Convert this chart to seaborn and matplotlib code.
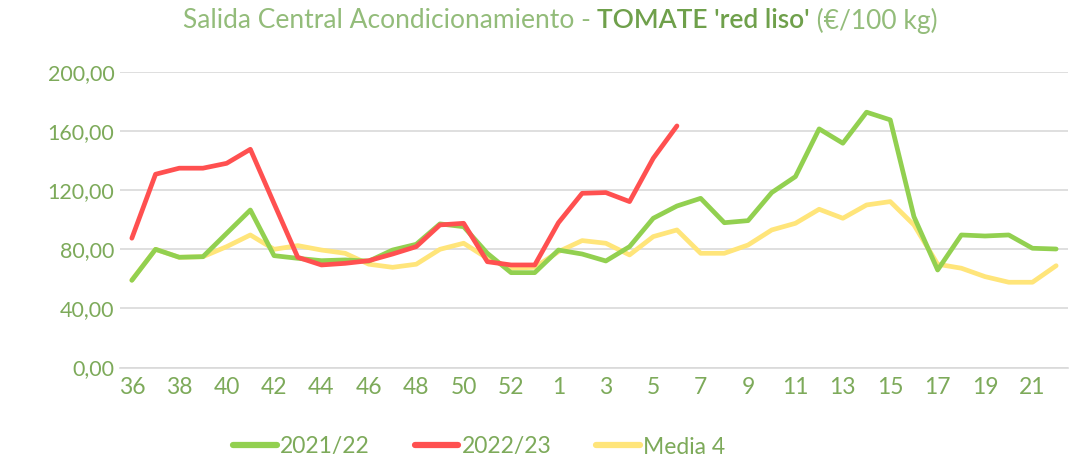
import numpy as np
import pandas as pd
import matplotlib
matplotlib.use("Agg")
import matplotlib.pyplot as plt
import seaborn as sns
from matplotlib.lines import Line2D

weeks = [str(w) for w in list(range(36, 54)) + list(range(1, 23))]

s2122 = [59, 80, 74.6, 75, 90.8, 106.6, 75.7, 73.9, 72.3, 72.8, 72, 79.5, 83.4, 97.2,
         95.3, 77.3, 64.2, 64.2, 79.5, 76.8, 72.1, 81.8, 101, 109.3, 114.5, 98, 99.4,
         118.4, 129.2, 161.5, 151.8, 172.8, 167.6, 102.1, 66, 89.7, 89, 89.7, 80.7, 80.2]
s2223 = [87.5, 130.8, 134.9, 134.9, 138.2, 147.7, 111, 74.6, 69.4, 70.5, 72.3, 76.8,
         81.8, 96.5, 97.6, 71.6, 69.4, 69.4, 98, 117.9, 118.4, 112.3, 141.6, 163.5] + [np.nan] * 16
media4 = [59.2, 80, 74.6, 75, 81.8, 89.7, 80, 82.5, 79.5, 77.3, 69.9, 67.8, 69.9, 80,
          84.1, 73.9, 67.2, 67.8, 78.4, 85.9, 84.1, 76.2, 88.6, 93.1, 77.3, 77.3, 82.9,
          93.1, 97.6, 107.1, 101, 110, 112.3, 96.5, 69.9, 67.2, 61.5, 57.7, 57.7, 68.9]

series_names = ["2021/22", "2022/23", "Media 4"]
colors = ["#92D050", "#FF5050", "#FFE57A"]
text_col = "#7DAA5A"
fs = 16.5

sns.set_theme(style="white")
plt.rcParams['font.family'] = ['Lato', 'DejaVu Sans']

n = len(weeks)
idx = np.arange(n)
df = pd.concat([
    pd.DataFrame({"idx": idx, "val": s2122, "serie": series_names[0]}),
    pd.DataFrame({"idx": idx, "val": s2223, "serie": series_names[1]}),
    pd.DataFrame({"idx": idx, "val": media4, "serie": series_names[2]}),
])

fig = plt.figure(figsize=(10.82, 4.62), dpi=100)
ax = fig.add_axes([120/1082, 1 - 367.5/462, (1068 - 120)/1082, (367.5 - 72)/462])

for k in [2, 0, 1]:
    sub = df[df.serie == series_names[k]].dropna()
    sns.lineplot(data=sub, x="idx", y="val", ax=ax, color=colors[k], linewidth=3.4,
                 legend=False, solid_capstyle="round", solid_joinstyle="round")

ax.set_xlim(-0.5, n - 0.5)
ax.set_ylim(0, 200)
yt = np.arange(0, 201, 40)
ax.set_yticks(yt)
ax.set_yticklabels([f"{v:.2f}".replace(".", ",") for v in yt])
ax.yaxis.grid(True, color="#D9D9D9", linewidth=1.2)
ax.set_axisbelow(True)
ax.set_xlabel("")
ax.set_ylabel("")

ax.set_xticks(idx[::2])
ax.set_xticklabels(weeks[::2])
ax.set_xticks(np.arange(-0.5, n, 1), minor=True)
ax.tick_params(axis="x", which="major", length=0, pad=7, labelsize=fs, colors=text_col)
ax.tick_params(axis="x", which="minor", length=8, width=1.2, color="#D9D9D9", direction="out")
ax.tick_params(axis="y", length=0, pad=4, labelsize=15.5, colors=text_col)

for sp in ["top", "right", "left"]:
    ax.spines[sp].set_visible(False)
ax.spines["bottom"].set_color("#D9D9D9")
ax.spines["bottom"].set_linewidth(1.2)

handles = [Line2D([0], [0], color=colors[k], linewidth=4.5, solid_capstyle="round") for k in range(3)]
leg = fig.legend(handles, series_names, loc="center", bbox_to_anchor=(0.443, 1 - 447/462), ncol=3,
                 frameon=False, fontsize=fs, handlelength=1.9, handletextpad=0.15,
                 columnspacing=1.95)
for t in leg.get_texts():
    t.set_color(text_col)

fig.canvas.draw()
renderer = fig.canvas.get_renderer()
parts = [("Salida Central Acondicionamiento - ", "#93BC7A", "normal"),
         ("TOMATE 'red liso'", "#6FA04B", "semibold"),
         (" (€/100 kg)", "#93BC7A", "normal")]
texts = []
for s, c, w in parts:
    t = fig.text(0, 1 - 21/462, s, color=c, fontsize=19, fontweight=w, va="center", ha="left")
    texts.append(t)
fig.canvas.draw()
widths = [t.get_window_extent(renderer).width for t in texts]
total = sum(widths)
x0 = 560 - total / 2
for t, wdt in zip(texts, widths):
    t.set_x(x0 / 1082)
    x0 += wdt

fig.savefig("out.png", dpi=100)
